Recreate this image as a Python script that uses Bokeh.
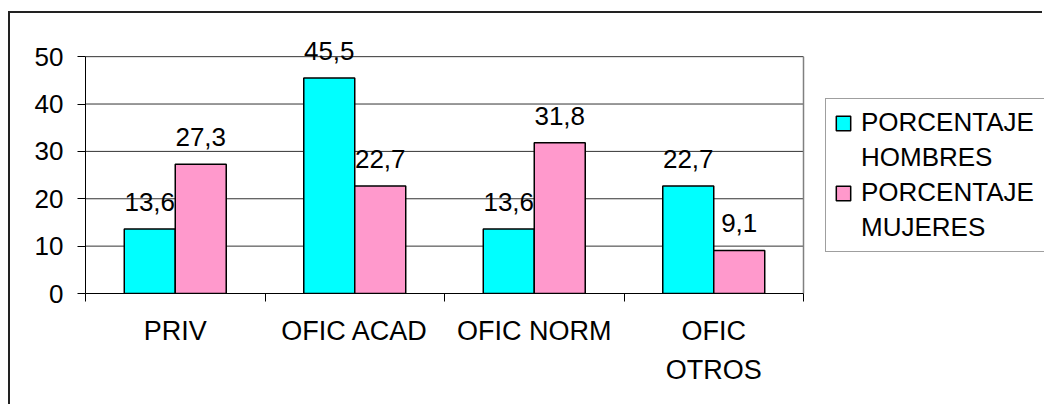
from bokeh.plotting import figure
from bokeh.models import (ColumnDataSource, Range1d, FixedTicker, Legend, LegendItem,
                          LabelSet)
from bokeh.core.properties import value
from bokeh.embed import file_html
from bokeh.resources import INLINE

categories = ["PRIV", "OFIC ACAD", "OFIC NORM", "OFIC\nOTROS"]
hombres = [13.6, 45.5, 13.6, 22.7]
mujeres = [27.3, 22.7, 31.8, 9.1]
series_names = ["PORCENTAJE\nHOMBRES", "PORCENTAJE\nMUJERES"]
y_ticks = [0, 10, 20, 30, 40, 50]

FONT = "Liberation Sans"
CYAN = "#00FFFF"
PINK = "#FF99CC"
BW = 0.284
OFF = 0.142

W, H = 1034, 393
LEFT, TOP, BOTTOM = 75, 10, 113
PLOT_AREA_W = 718            # width of the category area in px
FRAME_W = W - LEFT
ncat = len(categories)
x_end = ncat * FRAME_W / PLOT_AREA_W

centers = [i + 0.5 for i in range(ncat)]
fmt = lambda v: f"{v:.1f}".replace(".", ",")

src_h = ColumnDataSource(dict(x=[c - OFF for c in centers], top=hombres,
                              lab=[fmt(v) for v in hombres]))
src_m = ColumnDataSource(dict(x=[c + OFF for c in centers], top=mujeres,
                              lab=[fmt(v) for v in mujeres]))

ymax = max(y_ticks)
p = figure(width=W, height=H, output_backend="svg", toolbar_location=None,
           x_range=Range1d(0, x_end), y_range=Range1d(0, ymax * 1.14),
           min_border_left=LEFT, min_border_right=0, min_border_top=TOP,
           min_border_bottom=BOTTOM)
p.styles = {"border-top": "2px solid #222", "border-left": "2px solid #222",
            "margin-top": "11px", "margin-left": "8px"}
p.background_fill_color = "white"
p.border_fill_color = "white"
p.outline_line_color = None
p.xgrid.visible = False
p.ygrid.visible = False

# horizontal gridlines across the category area only
gl = [t for t in y_ticks if t > 0]
p.segment(x0=[0] * len(gl), y0=gl, x1=[ncat] * len(gl), y1=gl,
          line_color="#333333", line_width=1)
# gray right edge of the plot area
p.segment(x0=[ncat], y0=[0], x1=[ncat], y1=[ymax],
          line_color="#808080", line_width=1.5)

r1 = p.vbar(x="x", top="top", width=BW, bottom=0, source=src_h,
            fill_color=CYAN, line_color="black", line_width=1.5)
r2 = p.vbar(x="x", top="top", width=BW, bottom=0, source=src_m,
            fill_color=PINK, line_color="black", line_width=1.5)
# empty, invisible renderer used for the second line of each legend entry
blank = p.vbar(x=[], top=[], width=BW, fill_alpha=0, line_alpha=0)

for s in (src_h, src_m):
    p.add_layout(LabelSet(x="x", y="top", text="lab", source=s, y_offset=18,
                          text_align="center", text_baseline="alphabetic",
                          text_font=value(FONT), text_font_size=value("26px"),
                          text_color="black"))

# y axis
p.yaxis.ticker = FixedTicker(ticks=y_ticks, minor_ticks=[])
p.yaxis.bounds = (0, ymax)
p.yaxis.axis_line_color = "black"
p.yaxis.major_tick_out = 8
p.yaxis.major_tick_in = 0
p.yaxis.minor_tick_line_color = None
p.yaxis.major_label_text_font = FONT
p.yaxis.major_label_text_font_size = "26px"
p.yaxis.major_label_text_color = "black"
p.yaxis.major_label_standoff = 14

# x axis: labels at centres, ticks at boundaries
p.xaxis.ticker = FixedTicker(ticks=centers, minor_ticks=list(range(ncat + 1)))
p.xaxis.bounds = (0, ncat)
p.xaxis.major_label_overrides = {c: lab for c, lab in zip(centers, categories)}
p.xaxis.axis_line_color = "black"
p.xaxis.major_tick_line_color = None
p.xaxis.major_tick_out = 8
p.xaxis.minor_tick_line_color = "black"
p.xaxis.minor_tick_out = 8
p.xaxis.minor_tick_in = 0
p.xaxis.major_label_text_font = FONT
p.xaxis.major_label_text_font_size = "27px"
p.xaxis.major_label_text_color = "black"
p.xaxis.major_label_standoff = 14
p.xaxis.major_label_text_line_height = 1.3

items = []
for name, rend in zip(series_names, (r1, r2)):
    first, second = name.split("\n")
    items.append(LegendItem(label=first, renderers=[rend]))
    items.append(LegendItem(label=second, renderers=[blank]))

legend = Legend(items=items, location=(740, 41), label_text_font=FONT,
                label_text_font_size="26px", label_text_color="black",
                glyph_width=18, glyph_height=18, label_standoff=9, spacing=4,
                label_height=30, label_width=186,
                padding=8, border_line_color="#404040", border_line_width=1.5,
                background_fill_color="white", margin=0)
p.add_layout(legend, "center")

open("out.html", "w").write(file_html(p, INLINE))
